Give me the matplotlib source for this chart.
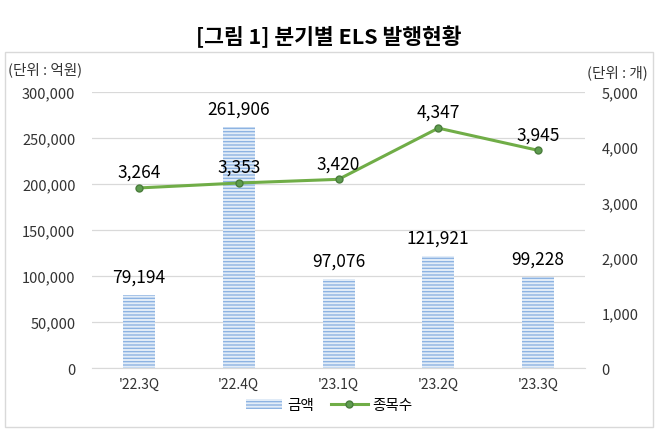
import matplotlib.pyplot as plt
from matplotlib.patches import Rectangle

plt.rcParams['font.family'] = ['Noto Sans CJK KR', 'DejaVu Sans']

quarters = ["'22.3Q", "'22.4Q", "'23.1Q", "'23.2Q", "'23.3Q"]
amount = [79194, 261906, 97076, 121921, 99228]
count = [3264, 3353, 3420, 4347, 3945]

fig = plt.figure(figsize=(6.58, 4.39), dpi=100)
ax = fig.add_axes([0.14, 0.159, 0.749, 0.629])
ax2 = ax.twinx()

plt.rcParams['hatch.color'] = '#8db3e2'
plt.rcParams['hatch.linewidth'] = 1.0
x = range(len(quarters))
bars = ax.bar(x, amount, width=0.32, color='#e3edf8', hatch='-----', linewidth=0, label='금액', zorder=2)
ax.set_ylim(0, 300000)
ax.set_xlim(-0.47, 4.47)
ax.set_yticks(range(0, 300001, 50000))
ax.set_yticklabels([f'{v:,}' for v in range(0, 300001, 50000)], fontsize=10.5, color='#333333')
ax.yaxis.grid(True, color='#d9d9d9', linewidth=0.9, zorder=0)
ax.set_axisbelow(True)
ax.set_xticks(list(x))
ax.set_xticklabels(quarters, fontsize=10, color='#333333')
for s in ['top', 'left', 'right']:
    ax.spines[s].set_visible(False)
ax.spines['bottom'].set_color('#d9d9d9')
ax.tick_params(axis='y', length=0, pad=12)
ax.tick_params(axis='x', length=0, pad=6)
for xi, v in zip(x, amount):
    ax.text(xi, v + 10000, f'{v:,}', ha='center', va='bottom', fontsize=12.5, color='black')

ax2.plot(list(x), count, color='#70ad47', linewidth=2.2, marker='o', markersize=5,
         markerfacecolor='#5e9c4f', markeredgecolor='#4a7d3c', label='종목수', zorder=3)
ax2.set_ylim(0, 5000)
ax2.set_yticks(range(0, 5001, 1000))
ax2.set_yticklabels([f'{v:,}' for v in range(0, 5001, 1000)], fontsize=10.5, color='#333333')
ax2.tick_params(length=0, pad=12)
for s in ax2.spines.values():
    s.set_visible(False)
for xi, v in zip(x, count):
    ax2.text(xi, v + 130, f'{v:,}', ha='center', va='bottom', fontsize=12.5, color='black')

fig.text(0.5, 0.915, '[그림 1] 분기별 ELS 발행현황', ha='center', va='center', fontsize=15.5, fontweight='bold')
fig.text(0.012, 0.84, '(단위 : 억원)', ha='left', va='center', fontsize=10.5, color='#333333')
fig.text(0.985, 0.835, '(단위 : 개)', ha='right', va='center', fontsize=10.5, color='#333333')

h1, l1 = ax.get_legend_handles_labels()
h2, l2 = ax2.get_legend_handles_labels()
fig.legend(h1 + h2, l1 + l2, loc='center', bbox_to_anchor=(0.5, 0.075), ncol=2, frameon=False,
           fontsize=10.5, handlelength=2.5, columnspacing=1.2, handletextpad=0.3)

fig.add_artist(Rectangle((0.008, 0.025), 0.984, 0.855, transform=fig.transFigure,
                         fill=False, edgecolor='#d9d9d9', linewidth=1))

fig.savefig('out.png', dpi=100)
